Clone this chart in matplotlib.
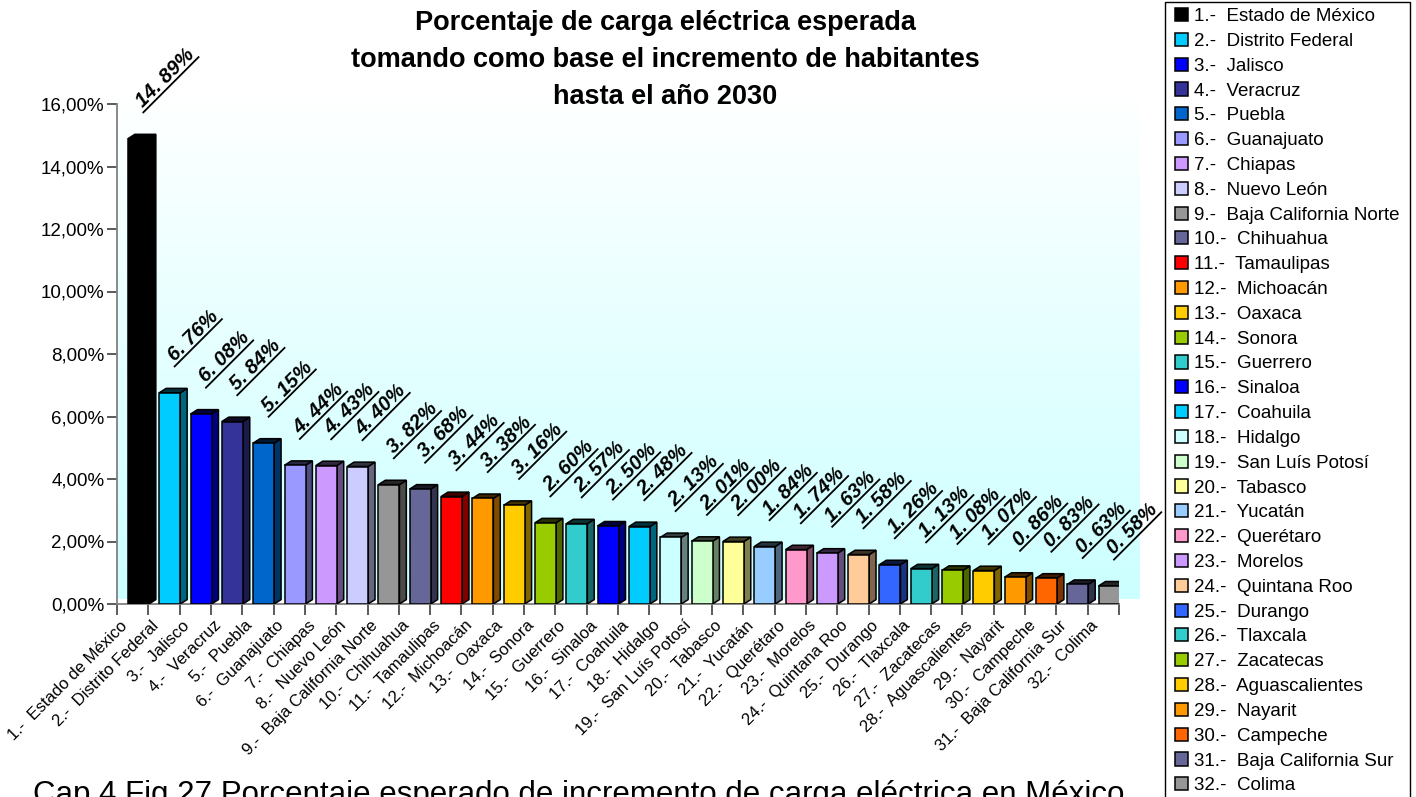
import numpy as np
import matplotlib
matplotlib.use("Agg")
import matplotlib.pyplot as plt
from matplotlib.patches import Polygon, Rectangle
from matplotlib.lines import Line2D
from matplotlib.transforms import IdentityTransform, ScaledTranslation
from matplotlib.colors import LinearSegmentedColormap, to_rgb

plt.rcParams['font.family'] = ['Liberation Sans', 'DejaVu Sans']

# ---------------- data ----------------
states = ["Estado de México", "Distrito Federal", "Jalisco", "Veracruz", "Puebla",
          "Guanajuato", "Chiapas", "Nuevo León", "Baja California Norte", "Chihuahua",
          "Tamaulipas", "Michoacán", "Oaxaca", "Sonora", "Guerrero", "Sinaloa",
          "Coahuila", "Hidalgo", "San Luís Potosí", "Tabasco", "Yucatán", "Querétaro",
          "Morelos", "Quintana Roo", "Durango", "Tlaxcala", "Zacatecas",
          "Aguascalientes", "Nayarit", "Campeche", "Baja California Sur", "Colima"]
values = [14.89, 6.76, 6.08, 5.84, 5.15, 4.44, 4.43, 4.40, 3.82, 3.68, 3.44, 3.38,
          3.16, 2.60, 2.57, 2.50, 2.48, 2.13, 2.01, 2.00, 1.84, 1.74, 1.63, 1.58,
          1.26, 1.13, 1.08, 1.07, 0.86, 0.83, 0.63, 0.58]
colors = ["#000000", "#00CCFF", "#0000FF", "#333399", "#0066CC", "#9999FF", "#CC99FF",
          "#CCCCFF", "#969696", "#666699", "#FF0000", "#FF9900", "#FFCC00", "#99CC00",
          "#33CCCC", "#0000FF", "#00CCFF", "#CCFFFF", "#CCFFCC", "#FFFF99", "#99CCFF",
          "#FF99CC", "#CC99FF", "#FFCC99", "#3366FF", "#33CCCC", "#99CC00", "#FFCC00",
          "#FF9900", "#FF6600", "#666699", "#969696"]
yticks = [0, 2, 4, 6, 8, 10, 12, 14, 16]
ytick_labels = ["0,00%", "2,00%", "4,00%", "6,00%", "8,00%", "10,00%", "12,00%",
                "14,00%", "16,00%"]
title = ("Porcentaje de carga eléctrica esperada\n"
         "tomando como base el incremento de habitantes\n"
         "hasta el año 2030")
caption = "Cap 4 Fig 27 Porcentaje esperado de incremento de carga eléctrica en México"

cat_labels = [f"{i + 1}.-  {s}" for i, s in enumerate(states)]
value_labels = [f"{v:.2f}".replace(".", ". ") + "%" for v in values]

# ---------------- figure ----------------
W, H, DPI = 1416, 797, 100
fig = plt.figure(figsize=(W / DPI, H / DPI), dpi=DPI)
fig.patch.set_facecolor("white")
ax = fig.add_axes([117 / W, 1 - 604 / H, 1002 / W, 500 / H])
ax.set_facecolor("none")

n = len(values)
x = np.arange(n)
left_off, bw = 0.35, 0.67
dx, dy = 0.22, 0.14

# gradient back wall
grad = np.linspace(0, 1, 256).reshape(-1, 1)
cmap = LinearSegmentedColormap.from_list("bg", ["#ccffff", "#ffffff"])
ax.imshow(grad, cmap=cmap, origin="lower", extent=(0, 32.65, 0.16, 16.3),
          aspect="auto", zorder=0, clip_on=False)

bars = ax.bar(x + left_off, values, width=bw, align="edge", color=colors,
              edgecolor="black", linewidth=1.1, zorder=3)

def shade(c, f):
    r, g, b = to_rgb(c)
    return (r * f, g * f, b * f)

for xi, v, c in zip(x, values, colors):
    L = xi + left_off
    R = L + bw
    side = Polygon([(R, 0), (R + dx, dy), (R + dx, v + dy), (R, v)], closed=True,
                   facecolor=shade(c, 0.5), edgecolor="black", linewidth=1.1, zorder=2.9)
    top = Polygon([(L, v), (R, v), (R + dx, v + dy), (L + dx, v + dy)], closed=True,
                  facecolor=shade(c, 0.25), edgecolor="black", linewidth=1.1, zorder=2.9)
    ax.add_patch(side)
    ax.add_patch(top)

ax.set_xlim(0, n)
ax.set_ylim(0, 16)

for s in ["top", "right"]:
    ax.spines[s].set_visible(False)
for s in ["left", "bottom"]:
    ax.spines[s].set_color("#808080")
    ax.spines[s].set_linewidth(1.3)

ax.set_yticks(yticks)
ax.set_yticklabels(ytick_labels, fontsize=13.5)
ax.tick_params(axis="y", length=7, width=1.2, color="#404040", pad=2)

ax.set_xticks(np.arange(n + 1))
ax.set_xticklabels([])
ax.tick_params(axis="x", which="major", length=8, width=1.2, color="#404040")
ax.set_xticks(x + 0.5, minor=True)
ax.set_xticklabels(cat_labels, minor=True, rotation=45, ha="right", va="top",
                   rotation_mode="anchor", fontsize=12)
ax.tick_params(axis="x", which="minor", length=0, pad=10)
for lab in ax.get_xticklabels(minor=True):
    lab.set_transform(lab.get_transform() + ScaledTranslation(-13 / DPI, 0, fig.dpi_scale_trans))

# data labels with underline
renderer = fig.canvas.get_renderer()
c45 = np.cos(np.pi / 4)
lab_dx_pt, lab_dy_pt = 3.5, 22
for xi, v, s in zip(x, values, value_labels):
    xc = xi + left_off + bw / 2
    ax.annotate(s, (xc, v), xytext=(lab_dx_pt, lab_dy_pt), textcoords="offset points",
                rotation=45, rotation_mode="anchor", ha="left", va="baseline",
                fontsize=14.5, fontweight="bold", fontstyle="italic",
                annotation_clip=False, zorder=5)
    tmp = fig.text(0, 0, s, fontsize=14.5, fontweight="bold", fontstyle="italic")
    w = tmp.get_window_extent(renderer).width
    tmp.remove()
    px, py = ax.transData.transform((xc, v))
    px += lab_dx_pt * DPI / 72
    py += lab_dy_pt * DPI / 72
    off = 3
    x0, y0 = px + off * c45, py - off * c45
    fig.add_artist(Line2D([x0 - 3 * c45, x0 + (w + 1) * c45],
                          [y0 - 3 * c45, y0 + (w + 1) * c45],
                          transform=IdentityTransform(), color="black", lw=1.3))

# title
fig.text(665 / W, 1 - 10 / H, title, ha="center", va="top", fontsize=19.5,
         fontweight="bold", linespacing=1.55)

# caption
fig.text(33 / W, -6 / H, caption, ha="left", va="baseline", fontsize=22.5)

# legend
fig.legend(bars.patches, cat_labels, loc="upper left",
           bbox_to_anchor=(1175 / W, 1 - 8 / H), frameon=False, fontsize=13.5,
           handlelength=0.7, handleheight=0.7, handletextpad=0.3,
           labelspacing=0.41, borderpad=0, borderaxespad=0)
fig.add_artist(Rectangle((1165 / W, -0.1), (1410 - 1165) / W, 1.1 - 1.5 / H,
                         transform=fig.transFigure, fill=False, edgecolor="black",
                         linewidth=1.0))

fig.savefig("out.png", dpi=DPI)
